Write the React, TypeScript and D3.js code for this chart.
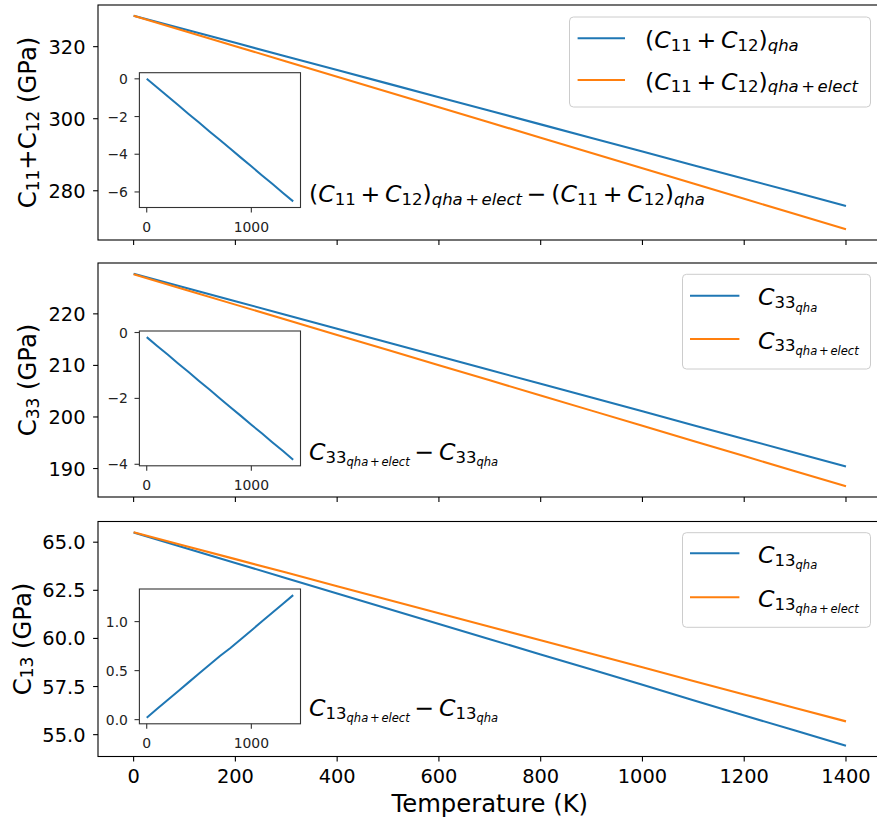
import React from "react";
import * as d3 from "d3";

// Temperature grid (K)
const temperature = [0, 100, 200, 300, 400, 500, 600, 700, 800, 900, 1000, 1100, 1200, 1300, 1400];

// C11 + C12 (GPa)
const c11c12Qha = [328.6, 324.83, 321.06, 317.29, 313.51, 309.74, 305.97, 302.2, 298.43, 294.66, 290.89, 287.11, 283.34, 279.57, 275.8];
const c11c12Elect = [328.6, 324.37, 320.13, 315.9, 311.65, 307.42, 303.18, 298.95, 294.72, 290.48, 286.25, 282.0, 277.77, 273.53, 269.3];

// C33 (GPa)
const c33Qha = [227.8, 225.13, 222.46, 219.79, 217.11, 214.44, 211.77, 209.1, 206.43, 203.76, 201.09, 198.41, 195.74, 193.07, 190.4];
const c33Elect = [227.66, 224.72, 221.79, 218.85, 215.91, 212.97, 210.04, 207.1, 204.16, 201.23, 198.29, 195.35, 192.41, 189.48, 186.54];

// C13 (GPa)
const c13Qha = [65.5, 64.71, 63.92, 63.13, 62.33, 61.54, 60.75, 59.96, 59.17, 58.38, 57.59, 56.79, 56.0, 55.21, 54.42];
const c13Elect = [65.52, 64.82, 64.12, 63.42, 62.71, 62.01, 61.31, 60.61, 59.9, 59.2, 58.5, 57.79, 57.09, 56.39, 55.69];

// Tick values
const temperatureTicks = [0, 200, 400, 600, 800, 1000, 1200, 1400];
const c11c12Ticks = [280, 300, 320];
const c33Ticks = [190, 200, 210, 220];
const c13Ticks = [55, 57.5, 60, 62.5, 65];
const insetTempTicks = [0, 1000];
const c11c12DiffTicks = [0, -2, -4, -6];
const c33DiffTicks = [0, -2, -4];
const c13DiffTicks = [0, 0.5, 1.0];

const BLUE = "#1f77b4";
const ORANGE = "#ff7f0e";
const FONT = "'DejaVu Sans', 'Liberation Sans', sans-serif";

type Seg = { t: string; it?: boolean; lv?: number; sp?: number };
const LV_SCALE = [1, 0.7, 0.49];
const LV_DROP = [0, 0.12, 0.27];

function MathText(props: {
  x?: number;
  y?: number;
  fs: number;
  segs: Seg[];
  anchor?: string;
  transform?: string;
}) {
  const { x = 0, y = 0, fs, segs, anchor = "start", transform } = props;
  let cur = 0;
  return (
    <text
      x={x}
      y={y}
      fontSize={fs}
      textAnchor={anchor}
      transform={transform}
      fill="#000"
      fontFamily={FONT}
      style={{ whiteSpace: "pre" }}
    >
      {segs.map((s, i) => {
        const lv = s.lv ?? 0;
        const target = LV_DROP[lv] * fs;
        const dy = target - cur;
        cur = target;
        return (
          <tspan
            key={i}
            fontSize={fs * LV_SCALE[lv]}
            fontStyle={s.it ? "italic" : "normal"}
            dy={dy}
            dx={(s.sp ?? 0) * fs * LV_SCALE[lv]}
          >
            {s.t}
          </tspan>
        );
      })}
    </text>
  );
}

const pairQha = (a: string, b: string): Seg[] => [
  { t: "(" },
  { t: "C", it: true },
  { t: a, lv: 1 },
  { t: "+", sp: 0.2 },
  { t: "C", it: true, sp: 0.2 },
  { t: b, lv: 1 },
  { t: ")" },
  { t: "qha", it: true, lv: 1 },
];
const pairElect = (a: string, b: string): Seg[] => [
  ...pairQha(a, b),
  { t: "+", lv: 1, sp: 0.15 },
  { t: "elect", it: true, lv: 1, sp: 0.15 },
];
const singleQha = (n: string): Seg[] => [
  { t: "C", it: true },
  { t: n, lv: 1 },
  { t: "qha", it: true, lv: 2 },
];
const singleElect = (n: string): Seg[] => [
  ...singleQha(n),
  { t: "+", lv: 2, sp: 0.15 },
  { t: "elect", it: true, lv: 2, sp: 0.15 },
];
const minusSeg: Seg = { t: "\u2212", sp: 0.2 };

const withSpace = (segs: Seg[]): Seg[] => [{ ...segs[0], sp: 0.2 }, ...segs.slice(1)];

const panels = [
  {
    qha: c11c12Qha,
    elect: c11c12Elect,
    ticks: c11c12Ticks,
    fmt: (v: number) => d3.format("d")(v),
    diffTicks: c11c12DiffTicks,
    diffFmt: (v: number) => d3.format("d")(v).replace("-", "\u2212"),
    ylabel: [{ t: "C" }, { t: "11", lv: 1 }, { t: "+" }, { t: "C" }, { t: "12", lv: 1 }, { t: " (GPa)" }] as Seg[],
    legendQha: pairQha("11", "12"),
    legendElect: pairElect("11", "12"),
    note: [...pairElect("11", "12"), minusSeg, ...withSpace(pairQha("11", "12"))],
    top: 5,
    height: 235,
    ylabelX: 36,
    insetTop: 72.7,
    noteY: 201.7,
    legend: { x0: 569.5, x1: 870.5, y0: 17, y1: 107, rows: [38.3, 80], h0: 577.6, h1: 625, tx: 645 },
  },
  {
    qha: c33Qha,
    elect: c33Elect,
    ticks: c33Ticks,
    fmt: (v: number) => d3.format("d")(v),
    diffTicks: c33DiffTicks,
    diffFmt: (v: number) => d3.format("d")(v).replace("-", "\u2212"),
    ylabel: [{ t: "C" }, { t: "33", lv: 1 }, { t: " (GPa)" }] as Seg[],
    legendQha: singleQha("33"),
    legendElect: singleElect("33"),
    note: [...singleElect("33"), minusSeg, ...withSpace(singleQha("33"))],
    top: 263,
    height: 234,
    ylabelX: 36,
    insetTop: 331,
    noteY: 460,
    legend: { x0: 682.5, x1: 870.5, y0: 274.3, y1: 369, rows: [295.7, 339], h0: 690, h1: 739.4, tx: 758 },
  },
  {
    qha: c13Qha,
    elect: c13Elect,
    ticks: c13Ticks,
    fmt: (v: number) => d3.format(".1f")(v),
    diffTicks: c13DiffTicks,
    diffFmt: (v: number) => d3.format(".1f")(v),
    ylabel: [{ t: "C" }, { t: "13", lv: 1 }, { t: " (GPa)" }] as Seg[],
    legendQha: singleQha("13"),
    legendElect: singleElect("13"),
    note: [...singleElect("13"), minusSeg, ...withSpace(singleQha("13"))],
    top: 521.5,
    height: 235,
    ylabelX: 30.5,
    insetTop: 589,
    noteY: 716,
    legend: { x0: 682.5, x1: 870.5, y0: 532.7, y1: 627.3, rows: [553.3, 597.3], h0: 690, h1: 739.4, tx: 758 },
  },
];

const AX_LEFT = 98;
const AX_RIGHT = 881.6;
const INSET_LEFT = 139.4;
const INSET_RIGHT = 300.5;
const INSET_H = 134.8;
const TICK = 4.9;
const TICK_FS = 19.4;
const INSET_FS = 13.9;
const LABEL_FS = 24.3;
const LEGEND_FS = 23.6;

// matplotlib-style auto limits: data extent padded by 5% each side
function padded(values: number[]): [number, number] {
  const [lo, hi] = d3.extent(values) as [number, number];
  const m = (hi - lo) * 0.05;
  return [lo - m, hi + m];
}

const xDomain = padded(temperature);

function Panel({ p, showX }: { p: (typeof panels)[number]; showX: boolean }) {
  const bottom = p.top + p.height;
  const x = d3.scaleLinear().domain(xDomain).range([AX_LEFT, AX_RIGHT]);
  const y = d3.scaleLinear().domain(padded([...p.qha, ...p.elect])).range([bottom, p.top]);
  const line = (vals: number[]) =>
    d3.line<number>().x((_, i) => x(temperature[i])).y((v) => y(v))(vals) ?? "";

  const diff = p.elect.map((v, i) => v - p.qha[i]);
  const insetBottom = p.insetTop + INSET_H;
  const ix = d3.scaleLinear().domain(xDomain).range([INSET_LEFT, INSET_RIGHT]);
  const iy = d3.scaleLinear().domain(padded(diff)).range([insetBottom, p.insetTop]);
  const diffLine = d3.line<number>().x((_, i) => ix(temperature[i])).y((v) => iy(v))(diff) ?? "";

  const lg = p.legend;
  const cy = p.top + p.height / 2;

  return (
    <g>
      {/* main series */}
      <path d={line(p.qha)} fill="none" stroke={BLUE} strokeWidth={2.08} />
      <path d={line(p.elect)} fill="none" stroke={ORANGE} strokeWidth={2.08} />

      {/* frame */}
      <rect x={AX_LEFT} y={p.top} width={AX_RIGHT - AX_LEFT} height={p.height} fill="none" stroke="#000" strokeWidth={1.1} />

      {/* y axis */}
      {p.ticks.map((t) => (
        <g key={t}>
          <line x1={AX_LEFT - TICK} x2={AX_LEFT} y1={y(t)} y2={y(t)} stroke="#000" strokeWidth={1.1} />
          <text x={AX_LEFT - 12.5} y={y(t) + TICK_FS * 0.36} fontSize={TICK_FS} textAnchor="end" fontFamily={FONT} fill="#000">
            {p.fmt(t)}
          </text>
        </g>
      ))}

      {/* x axis */}
      {temperatureTicks.map((t) => (
        <g key={t}>
          <line x1={x(t)} x2={x(t)} y1={bottom} y2={bottom + TICK} stroke="#000" strokeWidth={1.1} />
          {showX && (
            <text x={x(t)} y={782.5} fontSize={TICK_FS} textAnchor="middle" fontFamily={FONT} fill="#000">
              {t}
            </text>
          )}
        </g>
      ))}

      <MathText fs={LABEL_FS} segs={p.ylabel} anchor="middle" transform={`translate(${p.ylabelX},${cy}) rotate(-90)`} />

      {/* legend */}
      <rect x={lg.x0} y={lg.y0} width={lg.x1 - lg.x0} height={lg.y1 - lg.y0} rx={4} ry={4} fill="#fff" fillOpacity={0.8} stroke="#cccccc" strokeWidth={1} />
      <line x1={lg.h0} x2={lg.h1} y1={lg.rows[0]} y2={lg.rows[0]} stroke={BLUE} strokeWidth={2.08} />
      <line x1={lg.h0} x2={lg.h1} y1={lg.rows[1]} y2={lg.rows[1]} stroke={ORANGE} strokeWidth={2.08} />
      <MathText x={lg.tx} y={lg.rows[0] + 9.5} fs={LEGEND_FS} segs={p.legendQha} />
      <MathText x={lg.tx} y={lg.rows[1] + 9.5} fs={LEGEND_FS} segs={p.legendElect} />

      {/* inset: difference between the two series */}
      <rect x={INSET_LEFT} y={p.insetTop} width={INSET_RIGHT - INSET_LEFT} height={INSET_H} fill="#fff" />
      <path d={diffLine} fill="none" stroke={BLUE} strokeWidth={2} />
      <rect x={INSET_LEFT} y={p.insetTop} width={INSET_RIGHT - INSET_LEFT} height={INSET_H} fill="none" stroke="#333" strokeWidth={1.1} />
      {p.diffTicks.map((t) => (
        <g key={t}>
          <line x1={INSET_LEFT - TICK} x2={INSET_LEFT} y1={iy(t)} y2={iy(t)} stroke="#333" strokeWidth={1.1} />
          <text x={INSET_LEFT - 11.5} y={iy(t) + INSET_FS * 0.36} fontSize={INSET_FS} textAnchor="end" fontFamily={FONT} fill="#222">
            {p.diffFmt(t)}
          </text>
        </g>
      ))}
      {insetTempTicks.map((t) => (
        <g key={t}>
          <line x1={ix(t)} x2={ix(t)} y1={insetBottom} y2={insetBottom + TICK} stroke="#333" strokeWidth={1.1} />
          <text x={ix(t)} y={insetBottom + 24.2} fontSize={INSET_FS} textAnchor="middle" fontFamily={FONT} fill="#222">
            {t}
          </text>
        </g>
      ))}

      <MathText x={309} y={p.noteY} fs={LEGEND_FS} segs={p.note} />
    </g>
  );
}

export default function App() {
  return (
    <svg
      width={877}
      height={821}
      viewBox="0 0 877 821"
      style={{ position: "absolute", left: 0, top: 0, background: "#fff" }}
    >
      <rect width={877} height={821} fill="#fff" />
      {panels.map((p, i) => (
        <Panel key={i} p={p} showX={i === panels.length - 1} />
      ))}
      <text x={(AX_LEFT + AX_RIGHT) / 2} y={811.7} fontSize={LABEL_FS} textAnchor="middle" fontFamily={FONT} fill="#000">
        Temperature (K)
      </text>
    </svg>
  );
}
